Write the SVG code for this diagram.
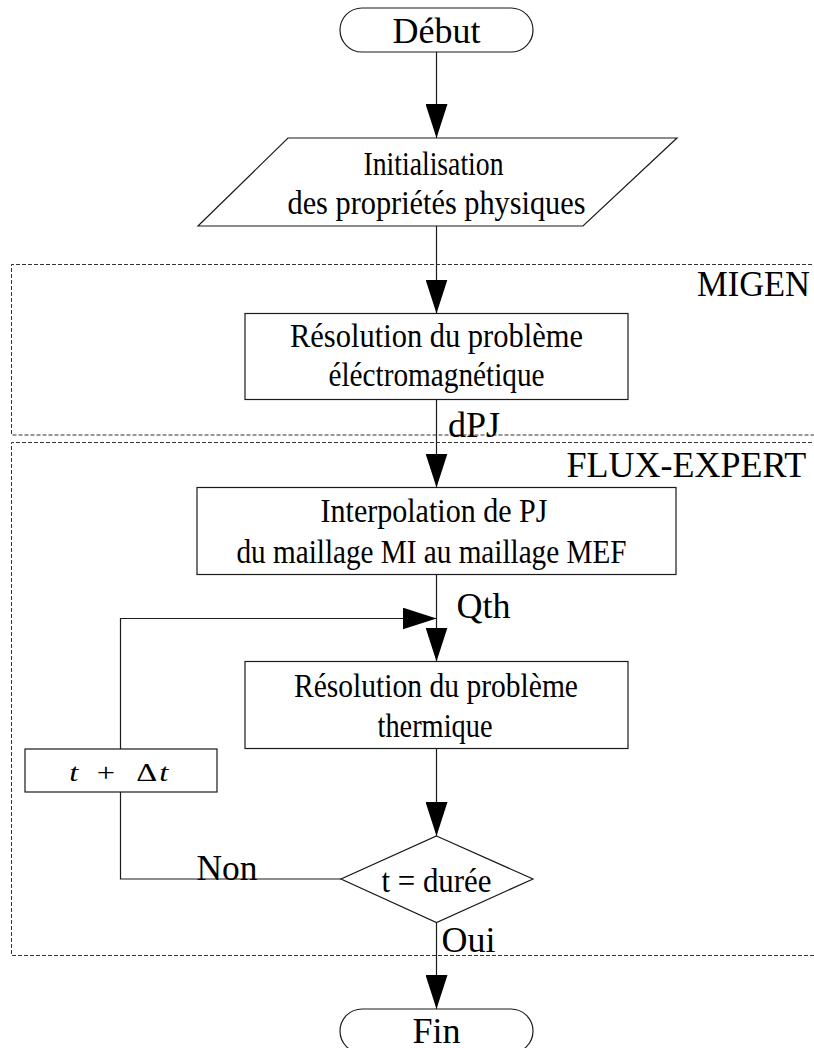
<svg xmlns="http://www.w3.org/2000/svg" width="814" height="1048" viewBox="0 0 814 1048">
<style>
  .shape { fill: #ffffff; stroke: #1a1a1a; stroke-width: 1.2; }
  .conn { fill: none; stroke: #1a1a1a; stroke-width: 1.2; }
  .zone { fill: none; stroke: #333333; stroke-width: 1; stroke-dasharray: 4 2; }
  .t { font-family: "Liberation Serif", "Times New Roman", serif; fill: #000000; }
  .body { font-size: 33px; text-anchor: middle; }
  .lbl { font-size: 36px; }
</style>
<defs>
  <marker id="arrow" markerUnits="userSpaceOnUse" markerWidth="34" markerHeight="22" refX="34" refY="11" orient="auto">
    <path d="M0,0 L34,11 L0,22 z" fill="#000000"/>
  </marker>
</defs>
<rect width="814" height="1048" fill="#ffffff"/>

<g id="zones">
  <path class="zone" d="M830,264.5 L11.5,264.5 L11.5,435 L830,435"/>
  <path class="zone" d="M830,442.5 L11.5,442.5 L11.5,955.5 L830,955.5"/>
  <text class="t lbl" x="697" y="296" textLength="113" lengthAdjust="spacingAndGlyphs">MIGEN</text>
  <text class="t lbl" x="566.5" y="477">FLUX-EXPERT</text>
</g>

<g id="connectors">
  <line class="conn" x1="436.5" y1="52" x2="436.5" y2="138" marker-end="url(#arrow)"/>
  <line class="conn" x1="436.5" y1="226" x2="436.5" y2="313.5" marker-end="url(#arrow)"/>
  <line class="conn" x1="436.5" y1="399.5" x2="436.5" y2="487.5" marker-end="url(#arrow)"/>
  <line class="conn" x1="436.5" y1="574.5" x2="436.5" y2="661.5" marker-end="url(#arrow)"/>
  <line class="conn" x1="436.5" y1="748.5" x2="436.5" y2="836" marker-end="url(#arrow)"/>
  <line class="conn" x1="436.5" y1="922.5" x2="436.5" y2="1009" marker-end="url(#arrow)"/>
  <polyline class="conn" points="341,879 120.5,879 120.5,792"/>
  <polyline class="conn" points="120.5,749 120.5,618.5 436.5,618.5" marker-end="url(#arrow)"/>
  <text class="t lbl" x="448" y="437">dPJ</text>
  <text class="t lbl" x="456.5" y="617.5">Qth</text>
  <text class="t lbl" x="196.5" y="879.5" textLength="61" lengthAdjust="spacingAndGlyphs">Non</text>
  <text class="t lbl" x="441.5" y="952">Oui</text>
</g>

<g id="debut">
  <rect class="shape" x="340" y="8" width="193" height="44" rx="22" ry="22"/>
  <text class="t lbl" x="436.5" y="43" text-anchor="middle">Début</text>
</g>

<g id="initialisation">
  <polygon class="shape" points="288,138 677,138 583,226 198,226"/>
  <text class="t body" x="433.5" y="175" textLength="140" lengthAdjust="spacingAndGlyphs">Initialisation</text>
  <text class="t body" x="436.5" y="213.5" textLength="298" lengthAdjust="spacingAndGlyphs">des propriétés physiques</text>
</g>

<g id="resolution-em">
  <rect class="shape" x="245" y="313.5" width="383" height="86"/>
  <text class="t body" x="436.5" y="347" textLength="293" lengthAdjust="spacingAndGlyphs">Résolution du  problème</text>
  <text class="t body" x="436.5" y="386" textLength="216" lengthAdjust="spacingAndGlyphs">éléctromagnétique</text>
</g>

<g id="interpolation">
  <rect class="shape" x="197" y="487.5" width="479" height="87"/>
  <text class="t body" x="434" y="521.5" textLength="227" lengthAdjust="spacingAndGlyphs">Interpolation de PJ</text>
  <text class="t body" x="431.5" y="562.5" textLength="390" lengthAdjust="spacingAndGlyphs">du maillage MI au maillage MEF</text>
</g>

<g id="resolution-thermique">
  <rect class="shape" x="245" y="661.5" width="383" height="87"/>
  <text class="t body" x="436" y="696.5" textLength="284" lengthAdjust="spacingAndGlyphs">Résolution du problème</text>
  <text class="t body" x="435" y="736.5" textLength="115" lengthAdjust="spacingAndGlyphs">thermique</text>
</g>

<g id="increment">
  <rect class="shape" x="25" y="749" width="192" height="43"/>
  <text class="t" font-size="26" transform="translate(0,781) scale(1.25,1)"><tspan x="55.5" y="0" font-style="italic">t</tspan><tspan x="77.5" y="0">+</tspan><tspan x="109" y="0">Δ</tspan><tspan x="127.5" y="0" font-style="italic">t</tspan></text>
</g>

<g id="test">
  <polygon class="shape" points="436.5,836 533,879 436.5,922.5 341,879"/>
  <text class="t body" x="436.5" y="891.5" textLength="110" lengthAdjust="spacingAndGlyphs">t = durée</text>
</g>

<g id="fin">
  <rect class="shape" x="340" y="1009" width="193" height="44" rx="22" ry="22"/>
  <text class="t lbl" x="436.5" y="1043" text-anchor="middle">Fin</text>
</g>
</svg>
